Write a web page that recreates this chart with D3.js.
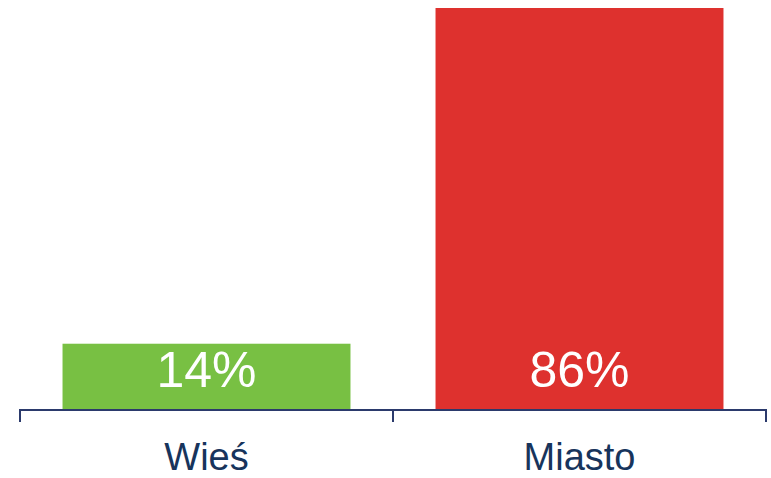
<!DOCTYPE html>
<html>
<head>
<meta charset="utf-8">
<script src="https://cdn.jsdelivr.net/npm/d3@7"></script>
<style>
  html, body { margin: 0; padding: 0; background: #ffffff; }
  svg { display: block; }
</style>
</head>
<body>
<svg id="chart" width="771" height="478"></svg>
<script>
// Share of respondents by place of residence
const categories = ["Wieś", "Miasto"];
const values = [14, 86];
const colors = ["#78c043", "#de312e"];

const svg = d3.select("#chart");
const baseY = 409;

const x = d3.scaleBand()
  .domain(categories)
  .range([20, 766])
  .paddingInner(0.228)
  .paddingOuter(0.114);

const y = d3.scaleLinear()
  .domain([0, 86])
  .range([baseY, 8]);

// Bars
svg.selectAll("rect.bar")
  .data(categories)
  .join("rect")
  .attr("class", "bar")
  .attr("x", d => x(d))
  .attr("width", x.bandwidth())
  .attr("y", (d, i) => y(values[i]))
  .attr("height", (d, i) => baseY - y(values[i]))
  .attr("fill", (d, i) => colors[i]);

// Value labels inside the bars
svg.selectAll("text.value")
  .data(categories)
  .join("text")
  .attr("class", "value")
  .attr("x", d => x(d) + x.bandwidth() / 2)
  .attr("y", 387)
  .attr("text-anchor", "middle")
  .attr("fill", "#ffffff")
  .attr("font-family", "Liberation Sans, Arial, sans-serif")
  .attr("font-size", 50)
  .text((d, i) => values[i] + "%");

// Category axis with band-boundary ticks
const axisColor = "#2b3a6c";
svg.append("line")
  .attr("x1", 20).attr("x2", 766)
  .attr("y1", baseY + 1).attr("y2", baseY + 1)
  .attr("stroke", axisColor).attr("stroke-width", 2);

const bounds = [x.range()[0]].concat(categories.map(d => x(d) + x.bandwidth() + x.step() * x.paddingInner() / 2));
bounds[bounds.length - 1] = x.range()[1];
svg.selectAll("line.tick")
  .data(bounds)
  .join("line")
  .attr("class", "tick")
  .attr("x1", d => d).attr("x2", d => d)
  .attr("y1", baseY).attr("y2", baseY + 13)
  .attr("stroke", axisColor).attr("stroke-width", 2);

svg.selectAll("text.cat")
  .data(categories)
  .join("text")
  .attr("class", "cat")
  .attr("x", d => x(d) + x.bandwidth() / 2)
  .attr("y", 470)
  .attr("text-anchor", "middle")
  .attr("fill", "#17345c")
  .attr("font-family", "Liberation Sans, Arial, sans-serif")
  .attr("font-size", 38)
  .text(d => d);
</script>
</body>
</html>
